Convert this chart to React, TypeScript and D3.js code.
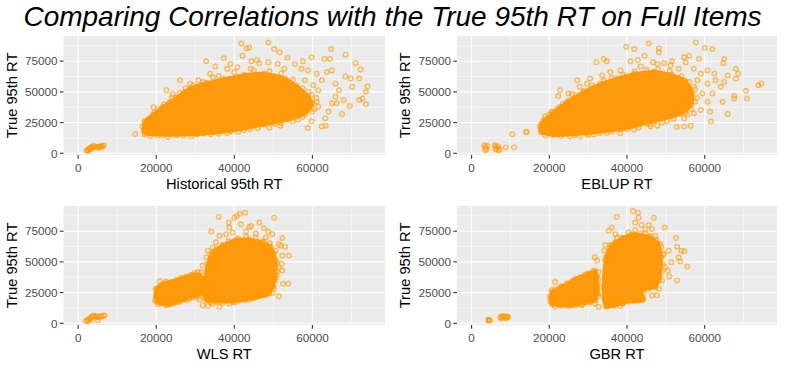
import * as d3 from "d3";

// all values in thousands (of the response time units)
const xTicks = [0, 20, 40, 60];
const yTicks = [0, 25, 50, 75];
const xMinor = [10, 30, 50, 70];
const yMinor = [12.5, 37.5, 62.5, 87.5];
const xDomain = [-3.75, 78.6];
const yDomain = [-1.38, 95.5];

type Pt = [number, number];

const histPoints: Pt[] = [
  [2.2, 2.0], [2.6, 2.2], [2.5, 2.8], [2.8, 3.5], [3.2, 3.0], [3.0, 4.2], [3.3, 4.8], [3.8, 5.0], [3.6, 5.5],
  [4.0, 6.0], [4.3, 5.2], [5.0, 4.8], [5.2, 4.5], [5.4, 5.5], [5.8, 5.8], [6.0, 5.2], [6.2, 6.0], [6.6, 6.3],
  [14.6, 15.8], [19.3, 37.5], [22.6, 51.4], [24.2, 48.2], [26.1, 59.4], [32.8, 74.9], [37.3, 77.4], [39.0, 72.8],
  [41.8, 89.4], [43.1, 85.4], [43.8, 86.2], [42.1, 79.5], [44.4, 74.9], [45.8, 76.0], [46.4, 73.3], [48.7, 90.2],
  [50.2, 84.9], [51.6, 82.2], [48.7, 74.1], [53.6, 77.6], [55.5, 72.8], [57.6, 74.9], [59.8, 78.2], [63.1, 76.8],
  [64.8, 84.9], [64.5, 76.8], [68.5, 80.3], [71.1, 73.6], [72.4, 68.3], [68.5, 62.6], [69.8, 60.8], [72.0, 60.8],
  [70.2, 54.1], [73.7, 50.1], [74.1, 54.6], [72.8, 44.7], [73.7, 39.9], [72.0, 43.4], [69.6, 38.5], [67.6, 32.1],
  [65.0, 40.7], [64.1, 34.0], [63.3, 28.6], [62.4, 21.9], [63.4, 22.5], [58.8, 20.6], [59.8, 26.0], [56.3, 27.3],
  [53.7, 30.0], [51.8, 22.5], [65.9, 56.7], [66.8, 51.4], [65.0, 67.5], [63.7, 66.1], [61.1, 64.8], [62.4, 59.4],
  [61.5, 51.4], [65.9, 46.0], [68.0, 43.4], [66.2, 40.7], [35.1, 70.7], [33.8, 64.8], [30.8, 59.4], [28.7, 56.7],
  [38.2, 68.8], [40.8, 70.1], [44.2, 68.8], [51.1, 72.8], [52.8, 68.8], [57.2, 68.8], [58.9, 67.5], [58.1, 59.4],
  [60.2, 55.4], [59.8, 47.4], [61.1, 42.0], [58.1, 38.0], [56.8, 32.7], [50.3, 24.1], [46.0, 20.6], [42.5, 18.7],
  [38.2, 16.6], [32.1, 16.1], [25.2, 14.5], [20.4, 14.5], [17.0, 15.3], [16.5, 21.9], [21.7, 36.7], [20.4, 32.1],
  [23.5, 42.0], [27.4, 50.1], [30.4, 54.1],
  [18.5, 14.0], [23.0, 13.5], [27.0, 14.2], [29.0, 13.8], [34.0, 15.5], [36.0, 16.0], [41.0, 17.5], [44.0, 19.5],
  [49.0, 21.0], [52.0, 24.5], [55.0, 26.0], [57.5, 29.5], [60.0, 34.0], [61.5, 38.0], [16.8, 19.0], [17.5, 24.0],
  [18.0, 28.0], [19.5, 33.0], [20.5, 36.0], [22.0, 40.0], [24.0, 45.0], [26.0, 49.0], [27.5, 53.0], [29.5, 55.5],
  [32.0, 58.0], [34.5, 62.0], [36.0, 63.0], [40.0, 66.0], [45.0, 67.5], [49.0, 67.0], [52.0, 65.0], [55.0, 60.0],
  [57.5, 53.0], [59.0, 50.0], [61.0, 45.0], [60.5, 36.0], [55.0, 50.0], [57.0, 45.0], [58.5, 42.0], [54.0, 55.0],
];
const histCore: Pt[] = [
  [17.0, 26.0], [17.0, 16.6], [21.7, 15.0], [30.4, 15.3], [39.0, 17.9], [47.7, 23.3], [53.7, 27.3], [58.1, 32.1],
  [60.0, 40.7], [59.0, 46.0], [56.0, 55.0], [53.0, 61.0], [47.7, 65.0], [42.5, 64.0], [37.3, 60.5], [33.0, 57.5],
  [28.7, 53.0], [25.2, 45.5], [21.7, 38.0], [19.1, 31.3],
];

const eblupPoints: Pt[] = [
  [3.3, 6.5], [3.5, 5.0], [3.8, 3.5], [4.0, 6.0], [3.6, 2.5], [6.0, 6.5], [6.3, 5.5], [6.5, 4.0], [6.2, 3.0],
  [6.8, 5.8], [7.0, 2.2], [7.2, 3.5], [8.8, 4.8], [10.9, 4.8], [10.5, 15.5], [14.2, 17.6],
  [14.0, 17.1], [22.3, 46.6], [22.8, 51.4], [24.9, 48.7], [25.8, 48.2], [27.2, 59.4], [27.8, 54.1], [32.1, 74.1],
  [34.0, 76.8], [34.8, 74.9], [39.8, 86.7], [41.9, 84.9], [40.9, 74.9], [42.8, 76.0], [44.5, 79.5], [45.6, 89.4],
  [48.2, 85.4], [48.2, 82.2], [46.7, 74.1], [49.5, 73.3], [51.6, 74.9], [54.7, 78.2], [56.0, 79.5], [55.1, 74.1],
  [58.5, 76.8], [57.7, 90.2], [60.0, 85.7], [62.0, 84.9], [65.0, 76.8], [64.8, 73.3], [68.0, 68.8], [68.6, 64.8],
  [68.0, 60.8], [65.9, 63.4], [65.0, 58.1], [62.8, 59.4], [64.1, 54.1], [70.6, 50.9], [73.8, 55.4], [74.6, 56.7],
  [70.9, 44.7], [67.6, 46.6], [67.6, 44.7], [64.6, 42.0], [65.9, 32.1], [61.6, 26.0], [61.4, 34.0], [59.0, 35.3],
  [56.4, 22.5], [54.7, 21.9], [52.8, 21.4], [47.8, 22.5], [45.2, 24.1], [54.7, 28.6], [60.7, 42.0], [59.4, 48.7],
  [62.0, 48.7], [60.7, 56.7], [59.0, 64.8], [57.2, 68.8], [60.7, 67.5], [62.5, 64.8], [51.2, 71.5], [53.3, 68.8],
  [47.8, 72.8], [43.5, 70.7], [38.3, 67.5], [35.7, 66.1], [33.6, 63.4], [29.7, 56.7], [30.5, 60.8], [26.2, 44.7],
  [22.8, 38.0], [20.6, 34.0], [18.9, 30.0], [18.6, 17.9], [25.3, 13.9], [27.9, 13.9], [31.4, 15.3], [34.8, 16.6],
  [38.3, 16.6], [41.7, 19.3], [46.1, 21.9], [50.3, 26.0], [55.5, 31.3], [57.2, 32.7], [52.9, 32.7], [54.2, 40.7],
  [56.0, 48.7], [57.2, 54.1], [58.1, 59.4],
  [19.0, 14.5], [23.0, 14.0], [26.5, 14.8], [30.0, 15.0], [33.0, 16.5], [36.0, 17.5], [40.0, 19.5], [43.0, 21.0],
  [46.0, 23.5], [49.0, 25.0], [52.0, 28.0], [55.0, 33.0], [56.5, 36.0], [18.0, 24.0], [19.0, 28.0], [20.0, 31.5],
  [22.0, 36.0], [23.5, 40.0], [25.0, 43.0], [27.0, 47.5], [29.0, 51.0], [31.0, 55.0], [34.0, 59.0], [36.0, 61.5],
  [39.0, 64.0], [42.0, 66.5], [45.0, 68.0], [48.0, 68.5], [51.0, 67.0], [54.0, 63.0], [56.0, 58.0], [57.5, 52.0],
  [58.0, 45.0], [57.5, 42.0],
];
const eblupCore: Pt[] = [
  [17.6, 21.9], [17.8, 17.1], [21.0, 14.7], [29.7, 16.1], [38.3, 19.3], [46.9, 26.0], [53.8, 32.1], [56.5, 39.3],
  [56.8, 48.7], [55.0, 59.0], [51.5, 64.0], [46.9, 66.5], [41.7, 64.5], [37.4, 61.0], [33.1, 56.5], [28.8, 50.0],
  [24.5, 41.5], [21.0, 33.2], [18.4, 26.0],
];

const wlsPoints: Pt[] = [
  [2.0, 1.8], [2.4, 2.6], [2.8, 3.4], [3.1, 4.3], [3.4, 5.2], [3.7, 5.8], [4.0, 6.2], [3.3, 3.2], [2.6, 1.9],
  [4.8, 5.4], [5.2, 5.0], [5.0, 2.4], [5.6, 5.8], [6.0, 5.6], [6.4, 6.2], [6.8, 6.4], [4.5, 5.8],
  [36.0, 86.6], [40.6, 87.4], [41.4, 89.2], [42.8, 90.1], [40.0, 86.0], [34.1, 74.7], [36.2, 71.2], [38.6, 82.0],
  [38.7, 78.0], [41.7, 80.6], [43.8, 78.5], [44.3, 79.3], [47.6, 77.4], [48.7, 74.7], [46.4, 82.0], [50.2, 86.0],
  [49.1, 65.1], [51.4, 64.5], [52.3, 69.4], [51.9, 63.2], [53.0, 62.4], [52.3, 55.1], [54.0, 55.1], [52.1, 48.4],
  [52.3, 43.0], [50.8, 39.0], [52.5, 32.3], [53.8, 32.3], [51.4, 22.0], [49.7, 24.7], [45.5, 21.0], [41.3, 18.8],
  [36.2, 13.4], [31.9, 14.8], [33.2, 14.0], [31.1, 19.4], [30.3, 27.4], [34.5, 61.8], [35.3, 65.9], [33.2, 59.1],
  [32.8, 53.8], [31.9, 47.0], [31.5, 41.7], [37.9, 72.6], [39.6, 73.9], [43.0, 74.7], [45.5, 73.1], [48.1, 69.9],
  [49.7, 72.6], [50.6, 59.1], [51.3, 45.7], [50.2, 28.2], [48.1, 22.8], [43.8, 19.4], [38.7, 16.1], [34.5, 16.1],
  [20.9, 34.4], [20.1, 24.2], [19.7, 18.8], [20.5, 15.6], [23.5, 15.6], [25.2, 32.8], [26.4, 35.5], [28.6, 38.2],
  [29.8, 40.9], [30.7, 41.7], [31.1, 39.0], [27.7, 18.8], [30.3, 21.5], [31.9, 21.5], [22.5, 34.0], [24.0, 33.5],
  [20.0, 21.0], [20.5, 26.0], [21.0, 30.5], [23.0, 33.0], [24.0, 16.0], [25.0, 17.0], [27.0, 19.5], [28.5, 20.0],
  [30.5, 23.0], [32.0, 28.0], [32.5, 33.0], [29.0, 39.5], [26.5, 37.0], [22.0, 31.0], [21.0, 16.5],
  [33.0, 22.0], [33.5, 30.0], [33.0, 40.0], [33.5, 45.0], [33.8, 52.0], [34.0, 56.0], [35.5, 61.0], [37.0, 64.0],
  [38.5, 67.0], [41.0, 69.0], [43.0, 70.5], [45.5, 69.5], [47.5, 66.5], [49.0, 63.0], [50.2, 57.0], [50.8, 50.0],
  [51.0, 42.0], [50.6, 37.0], [50.0, 30.0], [48.0, 25.0], [46.0, 22.0], [43.0, 19.0], [40.0, 17.0], [37.0, 16.5],
  [34.0, 17.0],
];
const wlsCoreLow: Pt[] = [
  [19.9, 28.2], [20.1, 17.5], [22.6, 14.8], [26.0, 17.5], [29.4, 21.5], [31.9, 25.5], [32.1, 36.3], [30.3, 39.8],
  [27.7, 38.2], [25.2, 35.5], [21.8, 32.3],
];
const wlsCoreHigh: Pt[] = [
  [32.8, 18.8], [35.3, 17.5], [39.6, 17.5], [44.7, 20.2], [48.9, 24.2], [50.4, 34.9], [50.6, 51.1], [49.4, 61.5],
  [47.2, 66.0], [43.8, 68.5], [40.4, 68.0], [37.0, 63.5], [34.5, 58.0], [33.2, 48.4], [32.4, 34.9], [32.1, 24.2],
];

const gbrPoints: Pt[] = [
  [4.3, 2.2], [4.5, 2.6], [4.7, 2.4], [4.4, 2.9], [7.4, 5.0], [7.8, 5.8], [8.2, 6.0], [8.6, 5.5], [9.0, 5.2],
  [9.2, 4.6], [8.8, 4.2], [8.0, 4.8], [9.4, 5.5], [7.6, 4.2],
  [37.4, 86.6], [41.5, 91.4], [42.8, 90.1], [43.0, 86.0], [42.1, 82.0], [43.7, 80.1], [46.9, 86.0], [45.6, 80.1],
  [35.3, 75.3], [36.1, 78.0], [49.7, 78.0], [46.4, 76.6], [52.6, 69.4], [52.9, 62.4], [54.0, 59.1], [54.8, 58.6],
  [55.5, 46.2], [53.7, 50.3], [53.3, 53.8], [51.4, 49.7], [52.9, 34.9], [50.7, 59.1], [50.5, 43.0], [50.9, 38.2],
  [49.0, 34.9], [48.2, 28.2], [46.4, 22.8], [47.7, 22.8], [43.9, 21.5], [41.3, 18.8], [38.7, 16.1], [38.3, 14.0],
  [34.4, 18.8], [31.8, 16.1], [32.7, 13.4], [31.8, 26.9], [34.2, 59.1], [34.4, 63.7], [35.7, 63.7], [34.4, 51.1],
  [31.7, 53.8], [32.3, 51.1], [31.8, 40.3], [32.7, 41.7], [31.0, 40.3], [21.5, 33.6], [20.7, 21.5], [20.3, 17.5],
  [21.5, 13.4], [25.8, 14.8], [28.4, 14.8], [30.1, 18.8], [31.0, 22.8], [40.4, 73.9], [44.7, 73.1], [47.3, 71.2],
  [48.6, 64.5], [49.4, 56.5], [49.7, 45.7], [37.4, 69.9], [35.3, 56.5], [37.0, 72.6], [42.1, 75.8], [44.7, 76.6],
  [20.2, 22.0], [20.6, 27.0], [21.5, 28.0], [23.0, 30.0], [24.5, 32.5], [26.0, 34.5], [28.0, 37.5], [30.0, 40.5],
  [31.5, 43.0], [32.6, 36.0], [33.0, 30.0], [32.8, 22.0], [30.5, 17.0], [27.0, 14.8], [23.0, 14.2], [20.8, 18.0],
  [34.8, 17.0], [34.7, 25.0], [34.8, 33.0], [34.7, 42.0], [34.8, 48.0], [35.0, 55.0], [35.5, 61.0], [37.0, 66.0],
  [39.0, 69.5], [41.0, 72.0], [43.5, 73.0], [46.0, 71.0], [47.5, 68.0], [48.8, 62.0], [49.3, 56.0], [49.2, 48.0],
  [49.0, 42.0], [48.3, 35.0], [47.0, 30.0], [45.5, 28.0], [44.3, 25.0], [44.2, 20.0], [42.0, 18.0], [39.0, 16.5],
  [36.5, 14.5],
];
const gbrCoreLow: Pt[] = [
  [20.3, 20.2], [20.7, 15.6], [25.0, 14.0], [28.4, 15.6], [31.8, 18.8], [32.5, 24.0], [32.3, 38.0], [31.8, 42.5],
  [29.3, 39.8], [26.7, 36.3], [23.3, 30.1], [20.7, 25.5],
];
const gbrCoreHigh: Pt[] = [
  [34.6, 13.4], [34.6, 53.8], [36.1, 63.5], [38.7, 69.5], [42.1, 72.5], [45.6, 70.5], [48.0, 65.0], [48.8, 53.8],
  [48.4, 37.6], [47.3, 29.6], [44.0, 26.9], [44.0, 18.8], [40.4, 17.5], [37.0, 14.8],
];

const panels = [
  { label: "Historical 95th RT", points: histPoints, cores: [histCore], left: 63.5, right: 385, top: 36, bottom: 155 },
  { label: "EBLUP RT", points: eblupPoints, cores: [eblupCore], left: 457, right: 777, top: 36, bottom: 155 },
  { label: "WLS RT", points: wlsPoints, cores: [wlsCoreLow, wlsCoreHigh], left: 63.5, right: 385, top: 206, bottom: 325 },
  { label: "GBR RT", points: gbrPoints, cores: [gbrCoreLow, gbrCoreHigh], left: 457, right: 777, top: 206, bottom: 325 },
];

const ORANGE = "#ff9900";
const FONT = "'Liberation Sans', Arial, Helvetica, sans-serif";

function Panel({ p }: { p: (typeof panels)[number] }) {
  const x = d3.scaleLinear().domain(xDomain).range([p.left, p.right]);
  const y = d3.scaleLinear().domain(yDomain).range([p.bottom, p.top]);
  const blob = d3
    .line<Pt>()
    .x((d) => x(d[0]))
    .y((d) => y(d[1]))
    .curve(d3.curveCatmullRomClosed.alpha(0.5));

  return (
    <g>
      <rect x={p.left} y={p.top} width={p.right - p.left} height={p.bottom - p.top} fill="#ebebeb" />
      {xMinor.map((t) => (
        <line key={"xm" + t} x1={x(t)} x2={x(t)} y1={p.top} y2={p.bottom} stroke="#fff" strokeWidth={0.55} />
      ))}
      {yMinor.map((t) => (
        <line key={"ym" + t} x1={p.left} x2={p.right} y1={y(t)} y2={y(t)} stroke="#fff" strokeWidth={0.55} />
      ))}
      {xTicks.map((t) => (
        <line key={"xM" + t} x1={x(t)} x2={x(t)} y1={p.top} y2={p.bottom} stroke="#fff" strokeWidth={1.1} />
      ))}
      {yTicks.map((t) => (
        <line key={"yM" + t} x1={p.left} x2={p.right} y1={y(t)} y2={y(t)} stroke="#fff" strokeWidth={1.1} />
      ))}

      {/* the overplotted centre of the cloud */}
      {p.cores.map((c, i) => (
        <path key={"c" + i} d={blob(c) ?? ""} fill="#ff9a0c" stroke="#ff9a0c" strokeWidth={3} strokeLinejoin="round" />
      ))}
      {p.cores.flat().concat(p.points).map((d, i) => (
        <circle
          key={i}
          cx={x(d[0])}
          cy={y(d[1])}
          r={2.3}
          fill="none"
          stroke={ORANGE}
          strokeOpacity={0.62}
          strokeWidth={1.4}
        />
      ))}

      {/* axes */}
      {yTicks.map((t) => (
        <g key={"yt" + t}>
          <line x1={p.left - 3.7} x2={p.left} y1={y(t)} y2={y(t)} stroke="#333" strokeWidth={1.1} />
          <text x={p.left - 6} y={y(t)} dy="0.36em" textAnchor="end" fontSize={11.7} fill="#4d4d4d" fontFamily={FONT}>
            {t * 1000}
          </text>
        </g>
      ))}
      {xTicks.map((t) => (
        <g key={"xt" + t}>
          <line x1={x(t)} x2={x(t)} y1={p.bottom} y2={p.bottom + 3.7} stroke="#333" strokeWidth={1.1} />
          <text x={x(t)} y={p.bottom + 16.5} textAnchor="middle" fontSize={11.7} fill="#4d4d4d" fontFamily={FONT}>
            {t * 1000}
          </text>
        </g>
      ))}
      <text
        x={(p.left + p.right) / 2}
        y={p.bottom + 33.5}
        textAnchor="middle"
        fontSize={14.7}
        fill="#000"
        fontFamily={FONT}
      >
        {p.label}
      </text>
      <text
        transform={`translate(${p.left - 47},${(p.top + p.bottom) / 2}) rotate(-90)`}
        textAnchor="middle"
        fontSize={14.7}
        fill="#000"
        fontFamily={FONT}
      >
        True 95th RT
      </text>
    </g>
  );
}

export default function App() {
  return (
    <svg
      width={785}
      height={368}
      style={{ position: "absolute", left: 0, top: 0, background: "#fff" }}
    >
      <rect width={785} height={368} fill="#fff" />
      <text x={392.5} y={25.5} textAnchor="middle" fontSize={28} fontStyle="italic" fontFamily={FONT} fill="#000">
        Comparing Correlations with the True 95th RT on Full Items
      </text>
      {panels.map((p) => (
        <Panel key={p.label} p={p} />
      ))}
    </svg>
  );
}
